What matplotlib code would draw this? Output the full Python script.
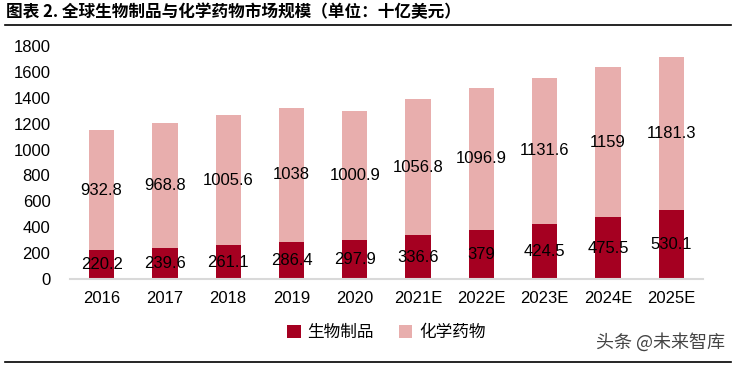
import matplotlib.pyplot as plt
from matplotlib.lines import Line2D

# data (unit: billion USD)
years = ['2016', '2017', '2018', '2019', '2020', '2021E', '2022E', '2023E', '2024E', '2025E']
bio = [220.2, 239.6, 261.1, 286.4, 297.9, 336.6, 379, 424.5, 475.5, 530.1]
chem = [932.8, 968.8, 1005.6, 1038, 1000.9, 1056.8, 1096.9, 1131.6, 1159, 1181.3]
bio_labels = ['220.2', '239.6', '261.1', '286.4', '297.9', '336.6', '379', '424.5', '475.5', '530.1']
chem_labels = ['932.8', '968.8', '1005.6', '1038', '1000.9', '1056.8', '1096.9', '1131.6', '1159', '1181.3']

num_font = ['Liberation Sans Narrow', 'Liberation Sans', 'DejaVu Sans']
cjk_font = ['Noto Sans CJK SC', 'DejaVu Sans']

dark_red = '#A50021'
pink = '#E8AEAD'

fig = plt.figure(figsize=(7.36, 3.68), dpi=100)
ax = fig.add_axes([0.095, 0.242, 0.86, 0.633])

x = list(range(len(years)))
b1 = ax.bar(x, bio, width=0.4, color=dark_red, label='生物制品')
b2 = ax.bar(x, chem, width=0.4, bottom=bio, color=pink, label='化学药物')

for i in x:
    ax.text(i, bio[i] / 2, bio_labels[i], ha='center', va='center',
            fontsize=12, family=num_font, color='black')
    ax.text(i, bio[i] + chem[i] / 2, chem_labels[i], ha='center', va='center',
            fontsize=12, family=num_font, color='black')

ax.set_xlim(-0.5, 9.5)
ax.set_ylim(0, 1800)
ax.set_yticks(range(0, 1801, 200))
ax.set_xticks(x)
ax.set_xticklabels(years)
for lab in ax.get_xticklabels() + ax.get_yticklabels():
    lab.set_family(num_font)
    lab.set_fontsize(12)
ax.tick_params(axis='both', length=0)
ax.tick_params(axis='y', pad=14)
ax.tick_params(axis='x', pad=9)

for s in ['top', 'right', 'left']:
    ax.spines[s].set_visible(False)
ax.spines['bottom'].set_color('#D9D9D9')
ax.spines['bottom'].set_linewidth(1.5)

ax.legend(handles=[b1, b2], loc='upper center', bbox_to_anchor=(0.5, -0.13),
          ncol=2, frameon=False, handlelength=0.8, handleheight=0.8,
          handletextpad=0.4, columnspacing=1.5,
          prop={'family': cjk_font, 'size': 12})

# title and rules
fig.text(0.008, 0.967, '图表 2. 全球生物制品与化学药物市场规模（单位：十亿美元）',
         family=cjk_font, fontsize=12, fontweight='bold', color='black',
         ha='left', va='center')
fig.add_artist(Line2D([0.007, 0.993], [0.932, 0.932], color='black', lw=1.2))
fig.add_artist(Line2D([0.007, 0.993], [0.016, 0.016], color='black', lw=1.2))

fig.text(0.985, 0.07, '头条 @未来智库', family=cjk_font, fontsize=13,
         color='#444444', ha='right', va='center')

fig.savefig('out.png', dpi=100)
